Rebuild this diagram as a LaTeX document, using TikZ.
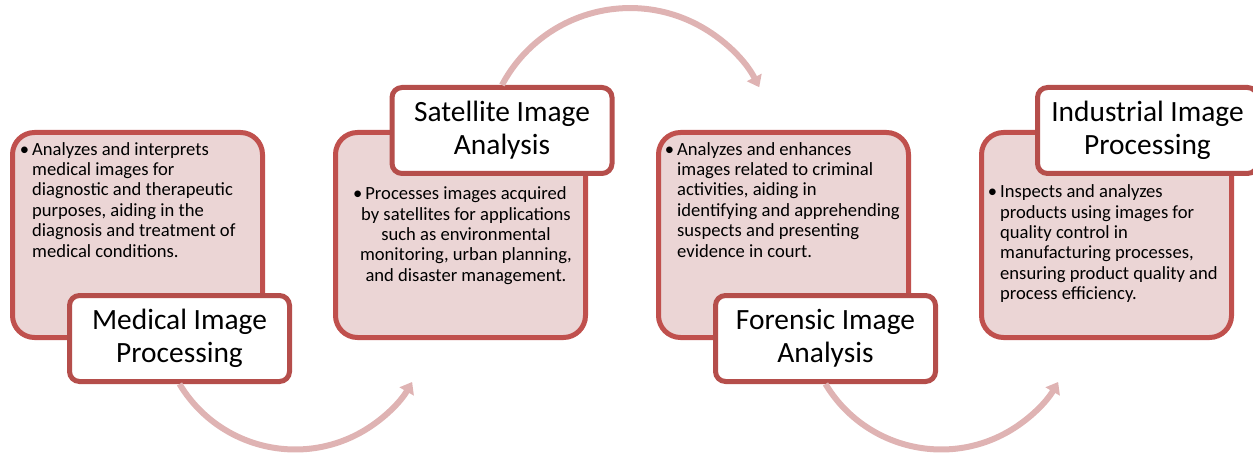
\documentclass[tikz,border=0pt]{standalone}
\usepackage{fontspec}
\setmainfont{Carlito}
\usetikzlibrary{arrows.meta}
\definecolor{boxfill}{HTML}{EBD5D5}
\definecolor{boxline}{HTML}{C0504D}
\definecolor{titleline}{HTML}{B54E4B}
\definecolor{flowcol}{HTML}{DFB3B3}
\tikzset{
 pinkbox/.style={draw=boxline, fill=boxfill, line width=5pt, rounded corners=22pt, minimum width=250pt, minimum height=205pt, inner sep=0pt},
 titlebox/.style={draw=titleline, fill=white, line width=5pt, rounded corners=10pt, minimum width=220pt, minimum height=86pt, inner sep=0pt, align=center, font=\fontsize{29.4}{32.8}\selectfont},
 bodytext/.style={inner sep=0pt, font=\fontsize{18.6}{20.4}\selectfont},
 flow/.style={draw=flowcol, line width=6pt, -{Triangle[width=16pt,length=11pt]}}
}
\newcommand{\bul}{\llap{\textbullet\hspace{3pt}}}
\begin{document}
\begin{tikzpicture}[x=1pt,y=1pt]
\useasboundingbox (0,0) rectangle (1253,453);
% pink boxes
\node[pinkbox] (p1) at (137.5,218) {};
\node[pinkbox] (p2) at (460.5,218) {};
\node[pinkbox] (p3) at (783.5,218) {};
\node[pinkbox] (p4) at (1106.5,218) {};
% body texts
\node[bodytext, anchor=north west, align=left] (b1) at (32,311) {\bul Analyzes and interprets\\medical images for\\diagnostic and therapeutic\\purposes, aiding in the\\diagnosis and treatment of\\medical conditions.};
\node[bodytext, anchor=north, align=center] (b2) at (466,266.5) {\bul Processes images acquired\\by satellites for applications\\such as environmental\\monitoring, urban planning,\\and disaster management.};
\node[bodytext, anchor=north west, align=left] (b3) at (677,311) {\bul Analyzes and enhances\\images related to criminal\\activities, aiding in\\identifying and apprehending\\suspects and presenting\\evidence in court.};
\node[bodytext, anchor=north west, align=left] (b4) at (1000,268.5) {\bul Inspects and analyzes\\products using images for\\quality control in\\manufacturing processes,\\ensuring product quality and\\process efficiency.};
% title boxes
\node[titlebox] (t1) at (179.5,114.5) {Medical Image\\Processing};
\node[titlebox] (t2) at (502,322.5) {Satellite Image\\Analysis};
\node[titlebox] (t3) at (825.5,114.5) {Forensic Image\\Analysis};
\node[titlebox] (t4) at (1147.5,322.5) {Industrial Image\\Processing};
% flow arrows
\draw[flow] (t1.south) arc[start angle=211, end angle=330, radius=135pt];
\draw[flow] (t2.north) arc[start angle=152, end angle=27, radius=145pt];
\draw[flow] (t3.south) arc[start angle=211, end angle=330, radius=135pt];
\end{tikzpicture}
\end{document}
